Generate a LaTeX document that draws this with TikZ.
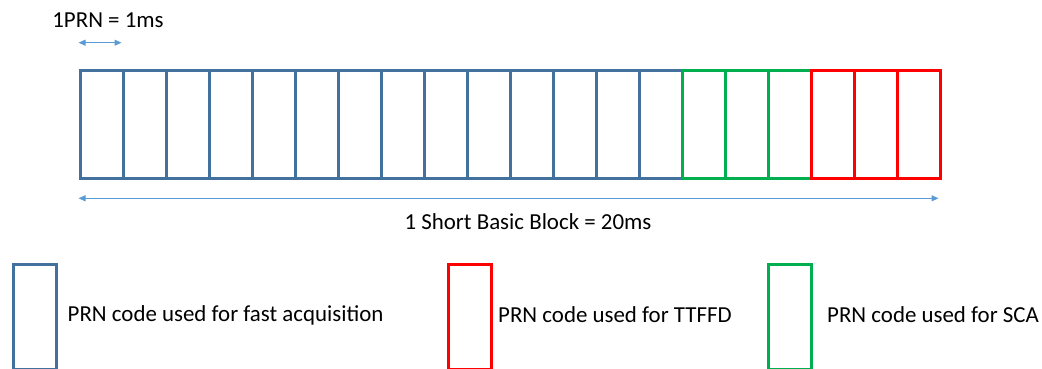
\documentclass[tikz,border=0pt]{standalone}
\usepackage{fontspec}
\setmainfont{Carlito}
\usetikzlibrary{arrows.meta}
\definecolor{cblue}{HTML}{41719C}
\definecolor{carrow}{HTML}{5B9BD5}
\definecolor{cgreen}{HTML}{00B050}
\definecolor{cred}{HTML}{FF0000}
\tikzset{
  cell/.style={draw=#1, line width=3pt, minimum width=43pt, minimum height=107pt, inner sep=0pt, anchor=north west},
  legbox/.style={draw=#1, line width=3pt, minimum width=43pt, minimum height=105pt, inner sep=0pt, anchor=north west},
  dim/.style={draw=carrow, line width=1pt, {Triangle[width=6pt,length=7pt]}-{Triangle[width=6pt,length=7pt]}},
  lbl/.style={font=\fontsize{22.9}{27}\selectfont, text=black, inner sep=0pt}
}
\begin{document}
\begin{tikzpicture}[x=1pt,y=-1pt]
\useasboundingbox (0,0) rectangle (1042,369);
% cells
\foreach \i in {0,...,13} { \node[cell=cblue] (c\i) at ({78.5+43*\i},69.5) {}; }
\foreach \i in {14,15,16} { \node[cell=cgreen] (c\i) at ({78.5+43*\i},69.5) {}; }
\foreach \i in {17,18,19} { \node[cell=cred] (c\i) at ({78.5+43*\i},69.5) {}; }
% top dimension
\coordinate (t1) at (78.5,42.7);
\coordinate (t2) at (121.5,42.7);
\draw[dim] (t1) -- (t2);
\node[lbl] (tl) at (108,20) {1PRN = 1ms};
% bottom dimension
\coordinate (b1) at (78.5,198.3);
\coordinate (b2) at (938.5,198.3);
\draw[dim] (b1) -- (b2);
\node[lbl] (bl) at (528,222) {1 Short Basic Block = 20ms};
% legend
\node[legbox=cblue] (lb) at (12,262.5) {};
\node[lbl, anchor=west] (lbt) at (67.5,315) {PRN code used for fast acquisition};
\node[legbox=cred] (lr) at (447,262.5) {};
\node[lbl, anchor=west] (lrt) at (498,315) {PRN code used for TTFFD};
\node[legbox=cgreen] (lg) at (766.5,262.5) {};
\node[lbl, anchor=west] (lgt) at (827,315) {PRN code used for SCA};
\end{tikzpicture}
\end{document}
